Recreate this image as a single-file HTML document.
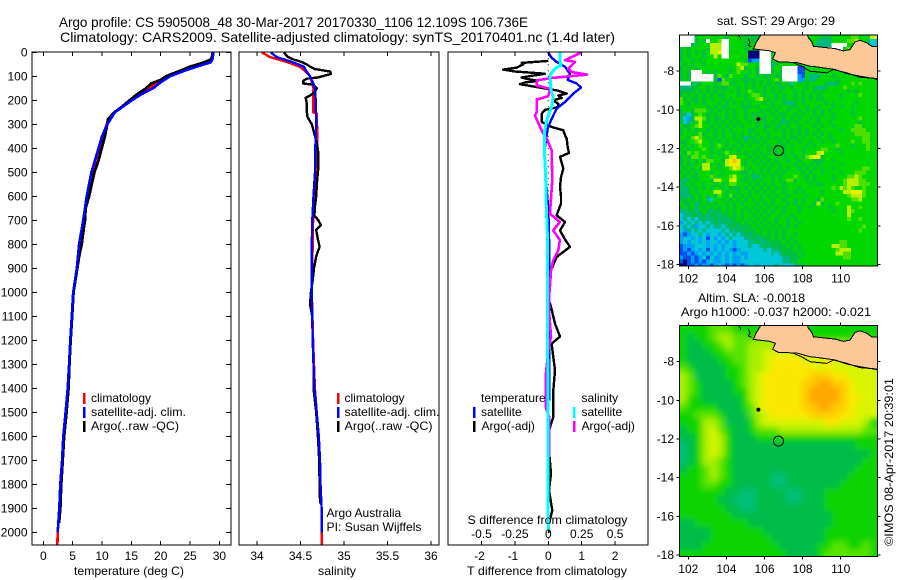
<!DOCTYPE html>
<html lang="en">
<head>
<meta charset="utf-8">
<title>Argo profile</title>
<style>
html,body{margin:0;padding:0;background:#fff;width:900px;height:580px;overflow:hidden}
svg{display:block}
text{font-family:"Liberation Sans",sans-serif;font-size:12px;fill:#000}
.t{font-size:14px}
</style>
</head>
<body>
<svg id="fig" width="900" height="580" viewBox="0 0 900 580" xmlns="http://www.w3.org/2000/svg">
<defs>
<clipPath id="c1"><rect x="32" y="52" width="199" height="493"/></clipPath>
<clipPath id="c2"><rect x="239" y="52" width="200" height="493"/></clipPath>
<clipPath id="c3"><rect x="448" y="52" width="200" height="493"/></clipPath>
<clipPath id="m1"><rect x="679.5" y="35" width="198" height="231"/></clipPath>
<clipPath id="m2"><rect x="679.5" y="325.5" width="198" height="231"/></clipPath>
<filter id="soft" x="-10%" y="-10%" width="120%" height="120%"><feGaussianBlur stdDeviation="3.2"/></filter>
</defs>
<rect width="900" height="580" fill="#fff"/>
<text class="t" x="59" y="27" textLength="469" lengthAdjust="spacingAndGlyphs">Argo profile: CS 5905008_48 30-Mar-2017 20170330_1106 12.109S 106.736E</text>
<text class="t" x="60" y="42" textLength="555" lengthAdjust="spacingAndGlyphs">Climatology: CARS2009. Satellite-adjusted climatology: synTS_20170401.nc (1.4d later)</text>

<g id="g1" clip-path="url(#c1)"></g>
<g id="g2" clip-path="url(#c2)"></g>
<g id="g3" clip-path="url(#c3)"></g>
<g id="ax"></g>

<text x="74" y="575" textLength="110" lengthAdjust="spacingAndGlyphs">temperature (deg C)</text>
<text x="318" y="575" textLength="38" lengthAdjust="spacingAndGlyphs">salinity</text>
<text x="467" y="575" textLength="160" lengthAdjust="spacingAndGlyphs">T difference from climatology</text>
<text x="467.5" y="524" textLength="160" lengthAdjust="spacingAndGlyphs">S difference from climatology</text>

<g>
<rect x="83" y="393" width="2.5" height="11" fill="#f00"/>
<text x="91" y="402">climatology</text>
<rect x="83" y="407" width="2.5" height="11" fill="#00f"/>
<text x="91" y="416" textLength="95" lengthAdjust="spacingAndGlyphs">satellite-adj. clim.</text>
<rect x="83" y="421" width="2.5" height="11" fill="#000"/>
<text x="91" y="430" textLength="88" lengthAdjust="spacingAndGlyphs">Argo(..raw -QC)</text>
</g>
<g>
<rect x="337" y="393" width="2.5" height="11" fill="#f00"/>
<text x="344.5" y="402">climatology</text>
<rect x="337" y="407" width="2.5" height="11" fill="#00f"/>
<text x="344.5" y="416" textLength="95" lengthAdjust="spacingAndGlyphs">satellite-adj. clim.</text>
<rect x="337" y="421" width="2.5" height="11" fill="#000"/>
<text x="344.5" y="430" textLength="88" lengthAdjust="spacingAndGlyphs">Argo(..raw -QC)</text>
</g>
<text x="326.5" y="517">Argo Australia</text>
<text x="326.5" y="531" textLength="95" lengthAdjust="spacingAndGlyphs">PI: Susan Wijffels</text>

<g>
<text x="481" y="402">temperature</text>
<text x="581.5" y="402">salinity</text>
<rect x="473" y="407" width="2.5" height="11" fill="#00f"/>
<text x="481" y="416">satellite</text>
<rect x="473" y="421" width="2.5" height="11" fill="#000"/>
<text x="481.5" y="430">Argo(-adj)</text>
<rect x="573" y="407" width="2.5" height="11" fill="#0ff"/>
<text x="581.5" y="416">satellite</text>
<rect x="573" y="421" width="2.5" height="11" fill="#f0f"/>
<text x="581.5" y="430">Argo(-adj)</text>
</g>

<text x="717" y="25" textLength="118" lengthAdjust="spacingAndGlyphs">sat. SST: 29 Argo: 29</text>
<text x="698" y="302" textLength="107" lengthAdjust="spacingAndGlyphs">Altim. SLA: -0.0018</text>
<text x="681" y="316" textLength="190" lengthAdjust="spacingAndGlyphs">Argo h1000: -0.037 h2000: -0.021</text>
<g id="map1"></g>
<g id="map2"></g>
<text transform="translate(893,546) rotate(-90)" textLength="168" lengthAdjust="spacingAndGlyphs">©IMOS 08-Apr-2017 20:39:01</text>
</svg>
<script>
/* ---------- profile data ---------- */
const tempClimDepth = [0,30,45,60,80,100,130,150,175,200,250,280,300,350,400,450,500,600,700,800,900,1000,1100,1200,1300,1400,1500,1600,1700,1800,1900,2000,2050];
const tempClim = [28.9,28.6,27.6,25.6,23.2,21.2,19.1,18,16.2,14.9,12.2,11.2,10.8,10.1,9.5,8.9,8.3,7.5,6.9,6.2,5.7,5.1,4.85,4.6,4.4,4.15,3.8,3.4,3.2,2.9,2.75,2.45,2.4];
const tempSatDepth = [0,30,42,60,80,100,125,150,175,200,250,300,350,400,500,600,700,800,900,1000,1100,1200,1300,1400,1500,1600,1700,1800,1900,2000];
const tempSat = [29,28.8,28.5,26.1,23.7,21.6,20,18.7,16.7,15.1,12.2,10.9,10,9.4,8.2,7.4,6.8,6.1,5.7,5.1,4.85,4.6,4.4,4.15,3.8,3.4,3.2,2.9,2.73,2.45];
const tempArgoDepth = [0,30,45,60,80,100,115,130,150,175,200,225,250,280,300,350,400,450,500,550,600,650,700,750,800,850,900,1000,1100,1200,1300,1400,1500,1600,1700,1800,1900,1960];
const tempArgo = [28.9,28.6,27,25,23,20.9,20,18.4,17.5,16,14.7,13.5,12.1,11,10.9,10.5,9.95,9.4,8.7,8.25,7.8,7.2,7.1,6.8,6.55,6.1,5.8,5.15,4.9,4.65,4.45,4.3,3.95,3.55,3.3,3.05,2.9,2.7];

const salClimDepth = [0,20,40,60,80,100,150,200,250,255,300,350,400,500,600,700,800,1000,1200,1400,1500,1600,1700,1800,1900,2050];
const salClim = [34.054,34.15,34.34,34.49,34.56,34.61,34.65,34.645,34.645,34.69,34.69,34.695,34.69,34.68,34.66,34.645,34.64,34.63,34.645,34.665,34.686,34.71,34.724,34.73,34.743,34.743];
const salSatDepth = [0,20,40,60,80,100,130,150,200,300,400,500,600,700,800,1000,1100,1200,1300,1400,1500,1600,1700,1800,1900,2000];
const salSat = [34.157,34.226,34.4,34.54,34.57,34.61,34.647,34.667,34.675,34.68,34.67,34.667,34.65,34.636,34.63,34.63,34.635,34.64,34.65,34.66,34.686,34.71,34.724,34.73,34.743,34.743];
const salArgoDepth = [0,10,20,30,40,50,60,70,80,90,105,110,120,130,135,150,165,180,190,210,240,270,300,340,380,420,480,540,600,640,680,700,720,740,780,810,850,900,950,1000,1050,1100,1200,1300,1400,1500,1600,1700,1800,1880];
const salArgo = [34.31,34.33,34.36,34.42,34.51,34.57,34.61,34.667,34.84,34.85,34.7,34.57,34.53,34.53,34.645,34.686,34.667,34.61,34.56,34.57,34.57,34.58,34.63,34.66,34.69,34.705,34.705,34.69,34.68,34.667,34.66,34.705,34.735,34.68,34.7,34.72,34.68,34.655,34.64,34.62,34.61,34.635,34.64,34.65,34.65,34.68,34.7,34.715,34.72,34.725];

const dtSatDepth = [0,20,40,60,90,115,130,147,172,207,235,283,318,394,478,617,728,1000,1450];
const dtSat = [0,0.08,0.25,0.5,0.65,0.58,0.85,0.98,0.75,0.5,0.25,0.08,-0.02,-0.1,-0.1,-0.02,0.02,0.03,0.03];
const dtArgoDepth = [36,44,50,64,72,80,89,105,112,119,126,133,153,160,172,180,190,200,215,228,240,256,290,311,325,345,360,395,419,436,460,485,520,561,600,631,679,707,742,780,811,853,908,964,1033,1061,1131,1184,1214,1325,1409,1520,1575,1659,1756,1825,1909,1964,2000];
const dtArgo = [0,-0.8,-0.75,-0.95,-1.35,-1.0,-0.1,-0.8,-0.6,-0.3,-0.7,-0.85,0,0.3,0.55,0.3,0.4,0.15,0.3,0.3,-0.1,-0.2,-0.2,0.1,0.45,0.5,0.55,0.58,0.62,0.35,0.4,0.45,0.38,0.35,0.38,0.38,0.25,0.5,0.35,0.5,0.65,0.25,0.08,0.02,0.02,0.08,0.2,0.35,0.1,0.2,0.15,0.15,0.02,0.02,0.08,0.02,0.12,0.02,0.02];
const dsArgoDepth = [0,33,40,68,82,93,107,117,138,152,183,197,249,263,311,339,360,408,533,672,707,742,783,825,867,908,978,1020,1075,1186,1242,1353,1478,1520,1686];
const dsArgo = [0.25,0.125,0.2,0.15,0.175,0.29,0.025,-0.087,-0.087,0.012,0,-0.087,-0.087,-0.1,-0.062,-0.037,-0.012,0.025,0.03,0.012,0.087,0.037,0.087,0.075,0.037,0.02,0.012,0.005,0.005,0.02,0,-0.02,-0.02,0.007,0.005];
const dsSatDepth = [0,33,54,68,96,158,186,228,283,339,408,506,644,783,1033,1500,1990];
const dsSat = [0.087,0.087,0.095,0.05,0.012,0.02,0.037,0.025,-0.012,-0.03,-0.03,-0.02,-0.015,-0.005,-0.005,-0.003,0];

/* ---------- tick labels ---------- */
const depthTicks = [0,100,200,300,400,500,600,700,800,900,1000,1100,1200,1300,1400,1500,1600,1700,1800,1900,2000];
const tempTicks = [0,5,10,15,20,25,30];
const salTicks = [34,34.5,35,35.5,36];
const dtTicks = [-2,-1,0,1,2];
const dsTicks = [-0.5,-0.25,0,0.25,0.5];
const lonTicks = [102,104,106,108,110];
const latTicks = [-8,-10,-12,-14,-16,-18];

/* ---------- sea surface temperature, one character per 0.2 degree cell, north to south ---------- */
const sstRows = [
"....566665665666655556666666666666666555666667766689",
"....565.667..666656566666666666666664444666677866533",
"...55666888..666656666666666666666664444....66766633",
"56566665888..66665666666666666666666656....67766633",
"56565656889..66666000...6666666666666655667766666666",
"56566656686..66666000...666666666666666566666666666",
"566565666666666665122...5666666666666666566666566666",
"656566566666666877666...5566666666666666666566666666",
"565656666666656785665...566....116666666666665666666",
"565...656566656766565...565....116666666666666666666",
"565......57657666566565565 5....21644466656666666666",
"565......517665655556565676....226446666656666666666",
"...55566656775566565656565565465656666544566676766666",
"444556656555566565656656565565666565445666676666666",
"55556565656565656676565656566656566565666666565666667",
"565656565655666565677656656566565656566666566667666",
"756556565665656665667865656566565656556666566666666",
"765656566656565656566656566544565666665656666656666",
"665666656565566655565666565665566566566656566566666",
"5665777656565656656665656566566565656565666665666666",
"54356765656656566565565656556656566565665666656666",
"53258875655656566565655665656565665656665666666766",
"53456865656565656656565656545656656656656666666566",
"65567866565656565666565565565665666565665666667766",
"56565665656565666655665665656565656656666656677776",
"56656756656566565656566566656565656565656666667777",
"66578765656566565455656565656556566656656666666677",
"55667866565656656565565666565665665665665666676677",
"65656766567656565656656565656566656566666766656667",
"56566676566565656666566565656666566667766566666667",
"65767666565676656565656565656566566689666656666666",
"56577676566568966656565665656656578995666666666666",
"56565657766589a96565656565665665666555665666666666",
"56556688565689996566565656566656565656666656666666",
"65656588665667987656656566565665656565665666666677",
"56565666566566665565656565656666565665666656667776",
"65655666765667866564465656566676656566665666778766",
"54565666588668965565656656567756656566665667888776",
"45656656656567766656565656656666665655666667888777",
"54565656566565556565656565656665666666667687876676",
"44565666688656656656565656656656566665666668899976",
"54456565657657565656656565665666656666666666788876",
"55656564366565656565656656656656566657666666677866",
"65564565656656565666565656665656566585666766666666",
"56564656565656566565656565656665665666656666866766",
"44554565455656565656565656656665666666665666876666",
"34455454554556565665656566566566666666666666866666",
"34343454454545565656565665665656666666666666766766",
"23434343454454556565656565665665666666666666666666",
"34342334344345545556565656565656666666666666666676",
"32434343333434454555656565656666666666666666666766",
"21233432332343434545556565656656666666666666666666",
"23323231323234333445445565656566666666666666666666",
"23233232332323233344544555565656666666666677666666",
"12223332323233233343345455556565666666668877666666",
"12123231323232123333334344555565666666666788866666",
"11212323232323232233333343455556566666666887766666",
"21121231322323223233333333344555666666666667766666",
"10121212322323223333333333344556666666666666666666",
"00112122123212121233233334333345566666666666666666"
];
/* ---------- sea level anomaly, one character per 0.4 degree cell, north to south ---------- */
const slaRows = [
"66667776666666666666666666",
"65667887767866666666666666",
"65566787788888888888888888",
"65556677788999999999999999",
"655556677889aaaa999a999999",
"765555667889aaaaaa9a999999",
"87555566789aaaaaabbbaa9999",
"87655556789aaaaabbccbba999",
"87655556689aaaaabccccba999",
"86655555689aaaaabccccbaa99",
"76666555679aaaaabbccbba999",
"667776555789aaaaabbbbaa999",
"66688755568999999 99aa9998",
"56689765567778888888888877",
"55689865556666666666666666",
"45689865555555555555555666",
"45689865555555555555555556",
"45688765555555555555555566",
"56678765555555555555555666",
"66678765555544555555556666",
"66677665555544555555566666",
"66666655445555445556666666",
"66666554445555445556666666",
"66666655445555555556666666",
"66666665555555555555666666",
"55666666655555555555666666",
"55556666666555555556666666",
"55556666666655555556666666",
"55566666666665555566776676",
"66666666666666555567777776"
];
const sstColors = {"0":"#00007f","1":"#0050f0","2":"#00a0f4","3":"#00c8d8","4":"#00b880","5":"#00c040","6":"#00d800","7":"#50e000","8":"#b4f000","9":"#e8f000","a":"#ffc000","b":"#ffb000","c":"#ffa000"};
const slaColors = {"4":"#00c078","5":"#00bc48","6":"#10d400","7":"#58e400","8":"#a8f000","9":"#d8f400","a":"#fbe800","b":"#ffcc00","c":"#ffa800"};

/* ---------- coastline and argo float position (lon, lat) ---------- */
const javaLon = [105.8,105.56,105.42,105.38,106.29,106.57,106.43,106.73,107.69,108.39,108.74,109.71,110.32,111.02,111.72,111.93,111.93,111.63,111.37,111.02,110.76,110.49,110.14,109.71,108.57,108.48,108.3,108.25];
const javaLat = [-6.14,-6.52,-6.83,-6.84,-6.95,-7.05,-7.36,-7.52,-7.55,-7.74,-7.78,-7.91,-8.12,-8.26,-8.38,-8.43,-6.74,-6.71,-6.53,-6.4,-6.48,-6.88,-6.95,-6.83,-6.71,-6.48,-6.26,-6.14];
const outerCoastLon = [107.52,107.95,108.39,109.27,109.62,110.32,111.02,111.93];
const outerCoastLat = [-7.57,-7.74,-8,-8.09,-7.91,-8.09,-8.31,-8.38];
const krakatoaLon = [105.15,105.24,105.15,105.33];
const krakatoaLat = [-6.31,-6.52,-6.66,-6.74];
const sumatraTipLon = [104.63,104.75,104.72];
const sumatraTipLat = [-6.14,-6.28,-6.36];
const floatLon = 106.736;
const floatLat = -12.109;
const islandLon = 105.68;
const islandLat = -10.48;

/* ---------- scales ---------- */
const yD = d => 52.3 + 0.24 * d;
const xT = v => 43.3 + 5.87 * v;
const xS = v => 257 + 87 * (v - 34);
const xDT = v => 548.3 + 33.4 * v;
const xDS = v => 548.3 + 133.6 * v;
const xLon = v => 688.3 + 19.05 * (v - 102);
const yLat1 = v => 71.2 - 19.33 * (v + 8);
const yLat2 = v => 361.7 - 19.33 * (v + 8);

const NS = "http://www.w3.org/2000/svg";
function mk(tag, parent, attrs) {
  const el = document.createElementNS(NS, tag);
  for (const k in attrs) el.setAttribute(k, attrs[k]);
  parent.appendChild(el);
  return el;
}
function series(parent, depth, vals, xf, color, w, name) {
  const pts = depth.map((d, i) => xf(vals[i]).toFixed(1) + "," + yD(d).toFixed(1)).join(" ");
  const el = mk("polyline", parent, {points: pts, fill: "none", stroke: color, "stroke-width": w, "stroke-linejoin": "round", "shape-rendering": "crispEdges"});
  
  
}
const g1 = document.getElementById("g1");
const g2 = document.getElementById("g2");
const g3 = document.getElementById("g3");
const ax = document.getElementById("ax");

series(g1, tempClimDepth, tempClim, xT, "#f00", 2.6, "temperature-climatology-line");
series(g1, tempArgoDepth, tempArgo, xT, "#000", 2.8, "temperature-argo-line");
series(g1, tempSatDepth, tempSat, xT, "#00f", 2.6, "temperature-satellite-line");
series(g2, salClimDepth, salClim, xS, "#f00", 2.4, "salinity-climatology-line");
series(g2, salArgoDepth, salArgo, xS, "#000", 2.4, "salinity-argo-line");
series(g2, salSatDepth, salSat, xS, "#00f", 2.4, "salinity-satellite-line");

const zero = mk("line", g3, {x1: xDT(0), x2: xDT(0), y1: yD(0), y2: 545, stroke: "#000", "stroke-width": 1, "stroke-dasharray": "1 5"});


series(g3, dtArgoDepth, dtArgo, xDT, "#000", 2.4, "t-difference-argo-line");
series(g3, dtSatDepth, dtSat, xDT, "#00f", 2.4, "t-difference-satellite-line");
series(g3, dsArgoDepth, dsArgo, xDS, "#f0f", 2.6, "s-difference-argo-line");
series(g3, dsSatDepth, dsSat, xDS, "#0ff", 3, "s-difference-satellite-line");

/* ---------- axis boxes and ticks ---------- */
const tickStyle = {stroke: "#000", "stroke-width": 1, "shape-rendering": "crispEdges"};
function box(x, y, w, h, parent, name) {
  const el = mk("rect", parent, Object.assign({x, y, width: w, height: h, fill: "none"}, tickStyle, {"stroke-width": 1.3}));
  
  
}
function tick(parent, x1, y1, x2, y2, name) {
  const el = mk("line", parent, Object.assign({x1, y1, x2, y2}, tickStyle));
  
  
}
function label(parent, x, y, txt, anchor, name) {
  const el = mk("text", parent, {x, y, "text-anchor": anchor});
  el.textContent = txt;
  
  
}
box(32, 52, 199, 493, ax, "temperature-panel-frame");
box(239, 52, 200, 493, ax, "salinity-panel-frame");
box(448, 52, 200, 493, ax, "difference-panel-frame");
depthTicks.forEach(d => {
  tick(ax, 32, yD(d), 37, yD(d), "depth-tick-left");
  tick(ax, 226, yD(d), 231, yD(d), "depth-tick-right");
  label(ax, 27.5, yD(d) + 4, String(d), "end", "depth-tick-label");
});
tempTicks.forEach(v => {
  tick(ax, xT(v), 52, xT(v), 56, "temperature-tick-top");
  tick(ax, xT(v), 541, xT(v), 545, "temperature-tick-bottom");
  label(ax, xT(v), 560, String(v), "middle", "temperature-tick-label");
});
salTicks.forEach(v => {
  tick(ax, xS(v), 52, xS(v), 56, "salinity-tick-top");
  tick(ax, xS(v), 541, xS(v), 545, "salinity-tick-bottom");
  label(ax, xS(v), 560, String(v), "middle", "salinity-tick-label");
});
dtTicks.forEach(v => {
  tick(ax, xDT(v), 52, xDT(v), 56, "t-difference-tick-top");
  tick(ax, xDT(v), 541, xDT(v), 545, "t-difference-tick-bottom");
  label(ax, xDT(v) - (v < 0 ? 2 : 0), 560, String(v), "middle", "t-difference-tick-label");
});
dsTicks.forEach(v => {
  label(ax, xDS(v), 538, String(v), "middle", "s-difference-tick-label");
});

/* ---------- maps ---------- */
const lonStart = 101.53, latStart = -6.14;
const mapX0 = 679.5, mapX1 = 877.5;
function coastLine(parent, lons, lats, yLat, name) {
  const el = mk("polyline", parent, {
    points: lons.map((v, i) => xLon(v).toFixed(1) + "," + yLat(lats[i]).toFixed(1)).join(" "),
    fill: "none", stroke: "#000", "stroke-width": 1, "shape-rendering": "crispEdges"
  });
  
  
}
function drawMap(root, rowsRaw, colors, cellDeg, yLat, clipId, top, bottom, soft, name) {
  const rows = rowsRaw.map(s => s.replace(/ /g, ""));
  const clip = mk("g", root, {"clip-path": "url(#" + clipId + ")"});
  const back = mk("rect", clip, {x: mapX0, y: top, width: mapX1 - mapX0, height: bottom - top, fill: colors["6"]});
  
  
  const layer = mk("g", clip, soft ? {filter: "url(#soft)"} : {});
  const nCols = Math.round(10.4 / cellDeg);
  rows.forEach((row, r) => {
    const y0 = yLat(latStart - r * cellDeg);
    const y1 = yLat(latStart - (r + 1) * cellDeg);
    const last = r === rows.length - 1;
    for (let c = 0; c < Math.min(row.length, nCols); c++) {
      const ch = row[c];
      const x0 = xLon(lonStart + c * cellDeg);
      const x1 = xLon(lonStart + (c + 1) * cellDeg);
      const padL = soft && c === 0 ? 12 : 0;
      const padR = c === nCols - 1 ? 14 : 0;
      const padT = soft && r === 0 ? 12 : 0;
      const padB = last ? 14 : 0;
      const cell = mk("rect", layer, {
        x: (x0 - padL).toFixed(1),
        y: (y0 - padT).toFixed(1),
        width: (x1 - x0 + padL + padR + 0.4).toFixed(1),
        height: (y1 - y0 + padT + padB + 0.4).toFixed(1),
        fill: ch === "." ? "#fff" : (colors[ch] || "#00d000"),
        "shape-rendering": "crispEdges"
      });
      
      
    }
  });
  const land = mk("polygon", clip, {
    points: javaLon.map((v, i) => xLon(v).toFixed(1) + "," + yLat(javaLat[i]).toFixed(1)).join(" "),
    fill: "#fdc898", stroke: "#000", "stroke-width": 1, "shape-rendering": "crispEdges"
  });
  
  
  coastLine(clip, outerCoastLon, outerCoastLat, yLat, "outer-coastline");
  coastLine(clip, krakatoaLon, krakatoaLat, yLat, "krakatoa-coastline");
  coastLine(clip, sumatraTipLon, sumatraTipLat, yLat, "sumatra-coastline");
  const island = mk("circle", clip, {cx: xLon(islandLon), cy: yLat(islandLat), r: 2, fill: "#000"});
  
  
  const marker = mk("circle", clip, {cx: xLon(floatLon), cy: yLat(floatLat), r: 5, fill: "none", stroke: "#000", "stroke-width": 1});
  
  
  box(mapX0, top, mapX1 - mapX0, bottom - top, root, name + "-frame");
  lonTicks.forEach(v => {
    tick(root, xLon(v), top - 3, xLon(v), top, "longitude-tick-top");
    tick(root, xLon(v), bottom, xLon(v), bottom + 3, "longitude-tick-bottom");
    label(root, xLon(v), bottom + 16.5, String(v), "middle", "longitude-tick-label");
  });
  latTicks.forEach(v => {
    tick(root, mapX0 - 3, yLat(v), mapX0, yLat(v), "latitude-tick-left");
    tick(root, mapX1, yLat(v), mapX1 + 3, yLat(v), "latitude-tick-right");
    label(root, 674, yLat(v) + 4, String(v), "end", "latitude-tick-label");
  });
}
drawMap(document.getElementById("map1"), sstRows, sstColors, 0.2, yLat1, "m1", 35, 266, false, "sst-map");
drawMap(document.getElementById("map2"), slaRows, slaColors, 0.4, yLat2, "m2", 325.5, 556.5, true, "altimetry-map");
</script>
</body>
</html>
